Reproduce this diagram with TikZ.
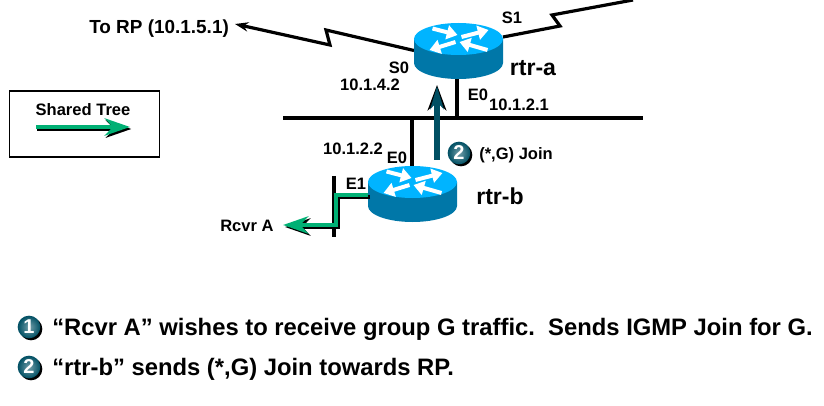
\documentclass[tikz,border=0pt]{standalone}
\usepackage{fontspec}
\setmainfont{Liberation Sans}
\usepackage{xcolor}
\usetikzlibrary{arrows.meta,calc,positioning}

\definecolor{routertop}{HTML}{00B4FF}
\definecolor{routerside}{HTML}{0077A8}
\definecolor{treegreen}{HTML}{00B074}
\definecolor{joinblue}{HTML}{004F63}

\tikzset{
  lbl/.style={font=\bfseries\fontsize{12.4}{14}\selectfont, text=black, inner sep=0pt},
  bigl/.style={font=\bfseries\fontsize{17.3}{20}\selectfont, text=black, inner sep=0pt},
  note/.style={font=\bfseries\fontsize{17.85}{20}\selectfont, text=black, inner sep=0pt, anchor=west},
  wire/.style={draw=black, line width=2.4pt},
  routerbase/.style={minimum width=66.75pt, minimum height=42pt, inner sep=0pt, outer sep=0pt},
  badge/.style={circle, minimum size=17pt, inner sep=0pt, text=white,
                font=\bfseries\fontsize{15}{15}\selectfont,
                shading=radial, inner color=joinblue!55!white, outer color=joinblue},
  badgeshadow/.style={circle, minimum size=17pt, inner sep=0pt, fill=black},
  treearrow/.style={line width=3.2pt, -{Stealth[length=19pt, width=13pt]}},
  facearrow/.style={white, line width=3pt, -{Triangle[length=8pt, width=10.5pt]}}
}

% router icon, centre of the top face at (#1)
\newcommand{\routericon}[1]{%
  \begin{scope}[shift={(#1)}]
    \fill[routerside] (-44.5,0) -- (-44.5,24) arc[start angle=180, end angle=0, x radius=44.5, y radius=16]
      -- (44.5,0) -- cycle;
    \fill[routertop] (0,0) ellipse[x radius=44.5, y radius=16];
    \draw[facearrow] (-26,-10.5) -- (-1,-4);
    \draw[facearrow] (3,-2) -- (30,-9);
    \draw[facearrow] (-3,3) -- (-29,11);
    \draw[facearrow] (29,11) -- (1,3);
  \end{scope}}

\begin{document}
\begin{tikzpicture}[x=0.75pt, y=-0.75pt]
\useasboundingbox (0,0) rectangle (824,406);

%% --- Routers --------------------------------------------------
\node[routerbase] (rtra) at (458.5,50.5) {};
\node[routerbase] (rtrb) at (412.5,194) {};
\coordinate (lanl) at (283,118);
\coordinate (lanr) at (643,118);
\coordinate (lanra) at (457,118);
\coordinate (lanrb) at (412,118);

%% --- Serial links ---------------------------------------------
\coordinate (rp) at (235,24);
\coordinate (sz) at (330,45);
\coordinate (sy) at (326,30);
\coordinate (tz) at (560,26);
\coordinate (ty) at (552,15);
\coordinate (tend) at (633,0);
\draw[wire, -{Stealth[length=10pt, width=7pt]}] (rtra.west) -- (sy) -- (sz) -- (rp);
\draw[wire] (rtra.east |- 0,37) -- (tz) -- (ty) -- (tend);

%% --- LAN ------------------------------------------------------
\draw[wire] (lanl) -- (lanr);
\draw[wire] (rtra.south -| lanra) -- (lanra);
\draw[wire] (lanrb) -- (rtrb.north -| lanrb);
\coordinate (stubt) at (334,176);
\coordinate (stubb) at (334,237);
\draw[wire] (stubt) -- (stubb);

\routericon{458.5,39}
\routericon{412.5,182}

%% --- Join arrow -----------------------------------------------
\coordinate (joins) at (437,160);
\coordinate (joine) at (437,85);
\draw[black, line width=3.8pt, -{Stealth[length=19pt, width=14pt]}] (joins) -- (joine);
\draw[joinblue, line width=3.8pt, -{Stealth[length=17pt, width=10pt]}] (joins) -- ([yshift=-1pt]joine);

%% --- Rcvr branch ----------------------------------------------
\coordinate (rcvbend) at (336,195);
\coordinate (rcvlow) at (336,225);
\coordinate (rcvtip) at (283,225);
\draw[black, treearrow]
  ([xshift=1.5pt,yshift=-1.5pt]rtrb.west |- rcvbend) -- ([xshift=1.5pt,yshift=-1.5pt]rcvbend)
  -- ([xshift=1.5pt,yshift=-1.5pt]rcvlow) -- ([xshift=1.5pt,yshift=-1.5pt]rcvtip);
\draw[treegreen, treearrow]
  (rtrb.west |- rcvbend) -- (rcvbend) -- (rcvlow) -- (rcvtip);

%% --- Legend ---------------------------------------------------
\node[draw=black, line width=0.9pt, minimum width=113pt, minimum height=49.5pt,
      inner sep=0pt] (legend) at (84.5,124) {};
\node[lbl] (legendt) at (83,110) {Shared Tree};
\coordinate (lega) at (36,127);
\coordinate (legb) at (130,127);
\draw[black, treearrow] ([xshift=1pt,yshift=-1.5pt]lega) -- ([xshift=1pt,yshift=-1.5pt]legb);
\draw[treegreen, treearrow] (lega) -- (legb);

%% --- Labels ---------------------------------------------------
\node[lbl, font=\bfseries\fontsize{14.2}{16}\selectfont, anchor=west] (torp) at (89,29) {To RP (10.1.5.1)};
\node[lbl] (s1) at (512,18) {S1};
\node[lbl] (s0) at (399,68) {S0};
\node[lbl] (ip42) at (370,85) {10.1.4.2};
\node[bigl] (rtralbl) at (533,68) {rtr-a};
\node[lbl] (e0a) at (478,95) {E0};
\node[lbl] (ip21) at (519,105) {10.1.2.1};
\node[lbl] (ip22) at (353,149) {10.1.2.2};
\node[lbl] (e0b) at (397,158) {E0};
\node[lbl] (e1) at (356,184) {E1};
\node[bigl] (rtrblbl) at (500,196) {rtr-b};
\node[lbl, anchor=west] (rcvr) at (220,226) {Rcvr A};
\node[lbl, anchor=west] (join) at (479,155) {(*,G) Join};

%% --- Badges and notes -----------------------------------------
\node[badgeshadow] at (461,155) {};
\node[badge] (bjoin) at (459,153) {2};
\node[badgeshadow] at (31,329) {};
\node[badge] (bone) at (29,327) {1};
\node[badgeshadow] at (31,369) {};
\node[badge] (btwo) at (29,367) {2};
\node[note] (noteone) at (52,329) {“Rcvr A” wishes to receive group G traffic.~~Sends IGMP Join for G.};
\node[note] (notetwo) at (52,369) {“rtr-b” sends (*,G) Join towards RP.};

\end{tikzpicture}
\end{document}
